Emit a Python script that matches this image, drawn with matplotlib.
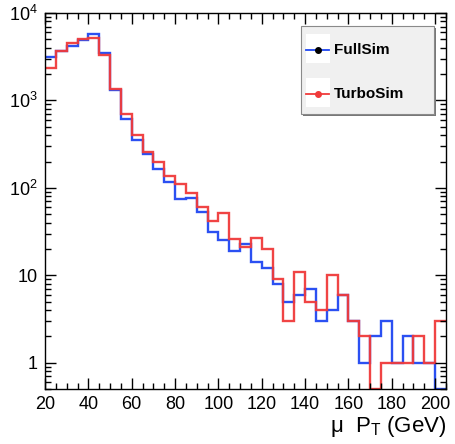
import numpy as np
import matplotlib
matplotlib.use("Agg")
import matplotlib.pyplot as plt
from matplotlib.patches import Rectangle
from matplotlib.lines import Line2D
from matplotlib.ticker import FixedLocator, FixedFormatter, MultipleLocator, LogLocator, NullFormatter

plt.rcParams['font.family'] = ['Liberation Sans', 'DejaVu Sans']
plt.rcParams['mathtext.fontset'] = 'custom'
plt.rcParams['mathtext.rm'] = 'Liberation Sans'
plt.rcParams['mathtext.it'] = 'Liberation Sans:italic'

# bin edges: 20 -> 205 GeV in 5 GeV steps
bin_edges = np.arange(20, 206, 5)

# muon pT histograms (entries per bin)
fullsim = [3100, 3630, 4200, 4900, 5700, 3470, 1310, 615, 356, 244,
           165, 118, 75, 77, 53, 31, 25, 19, 23, 14,
           12, 8, 5, 6, 7, 3, 4, 6, 3, 1,
           2, 3, 1, 2, 1, 1, 0]
turbosim = [2380, 3700, 4550, 5000, 5200, 3290, 1360, 705, 407, 258,
            200, 137, 111, 87, 61, 42, 51, 26, 21, 27,
            20, 9, 3, 11, 5, 4, 10, 6, 3, 2,
            0, 1, 1, 1, 2, 1, 3]

labels = ["FullSim", "TurboSim"]
c_blue = "#1f46f2"
c_red = "#f03a3a"

W, H = 455, 444
fig = plt.figure(figsize=(W / 100, H / 100), dpi=100)
ax = fig.add_axes([45 / W, 1 - 389 / H, (446 - 45) / W, (389 - 13) / H])

ymin, ymax = 0.5, 1e4
for vals, col in [(fullsim, c_blue), (turbosim, c_red)]:
    v = np.clip(np.asarray(vals, dtype=float), ymin, None)   # empty bins go to the floor
    ax.stairs(v, bin_edges, baseline=None, color=col, lw=1.7, alpha=0.95)

ax.set_yscale("log")
ax.set_xlim(20, 205)
ax.set_ylim(ymin, ymax)

# x ticks: ROOT style, major every 20, minor every 5
ax.xaxis.set_major_locator(MultipleLocator(20))
ax.xaxis.set_minor_locator(MultipleLocator(5))
ax.set_xticks(np.arange(20, 201, 20))

# y ticks
ax.yaxis.set_major_locator(FixedLocator([1, 10, 100, 1000, 10000]))
ax.yaxis.set_major_formatter(FixedFormatter(["1", "10", "$10^{2}$", "$10^{3}$", "$10^{4}$"]))
ax.yaxis.set_minor_locator(LogLocator(base=10, subs=np.arange(2, 10)))
ax.yaxis.set_minor_formatter(NullFormatter())

ax.tick_params(which="both", direction="in", top=True, right=True, labelsize=13, width=1)
ax.tick_params(which="major", length=8)
ax.tick_params(which="minor", length=4)
ax.tick_params(axis="x", pad=5)
ax.tick_params(axis="y", pad=5)
for s in ax.spines.values():
    s.set_linewidth(1.0)

ax.set_xlabel("μ  P$_\\mathregular{T}$ (GeV)", fontsize=16, loc="right", labelpad=1)


# ---- legend drawn by hand in pixel coordinates (ROOT TLegend look) ----
def fx(x):
    return x / W


def fy(y):
    return 1 - y / H


fig.patches.append(Rectangle((fx(303), fy(116)), fx(434) - fx(301), fy(28.5) - fy(116),
                             transform=fig.transFigure, facecolor="#777777", edgecolor="none", zorder=5))
fig.patches.append(Rectangle((fx(301), fy(114)), fx(434) - fx(301), fy(26.5) - fy(114),
                             transform=fig.transFigure, facecolor="#f0f0f0", edgecolor="#8a8a8a",
                             lw=0.8, zorder=6))
for yc, col, mk, lab in [(50, c_blue, "black", labels[0]), (94, c_red, c_red, labels[1])]:
    fig.patches.append(Rectangle((fx(306), fy(yc + 13)), fx(330) - fx(306), fy(yc - 16) - fy(yc + 13),
                                 transform=fig.transFigure, facecolor="white", edgecolor="none", zorder=7))
    fig.lines.append(Line2D([fx(306), fx(329)], [fy(yc), fy(yc)], transform=fig.transFigure,
                            color=col, lw=1.3, zorder=8))
    fig.lines.append(Line2D([fx(318)], [fy(yc)], transform=fig.transFigure, marker="o", ms=4,
                            color=mk, mec=mk, ls="none", zorder=9))
    fig.text(fx(334), fy(yc), lab, fontsize=11, fontweight="bold", va="center", ha="left", zorder=9)

fig.savefig("out.png", dpi=100)
